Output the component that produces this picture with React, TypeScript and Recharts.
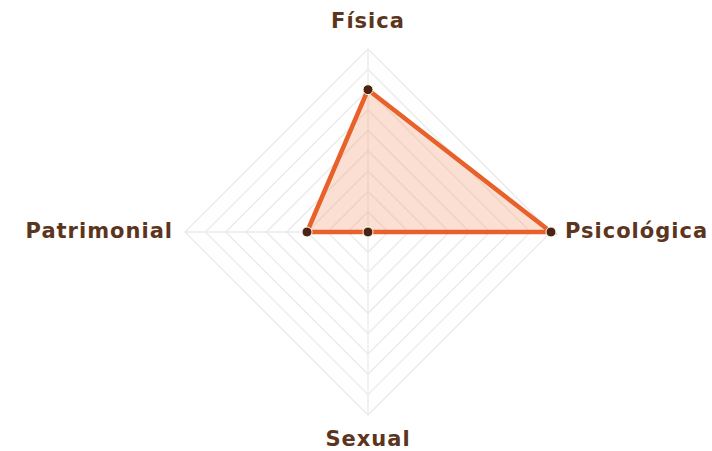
import { PolarAngleAxis, PolarGrid, PolarRadiusAxis, Radar, RadarChart } from "recharts";

const categories = ["Física", "Psicológica", "Sexual", "Patrimonial"];
const values = [7, 9, 0, 3];
const maxValue = 9;

const data = categories.map((name, i) => ({ name, value: values[i] }));

const LABEL = "#5b3520";

// nudges (dx, dy from the tick point to the text baseline) so the labels sit where the original puts them
const labelShift: Record<string, [number, number]> = {
  Física: [0, -13],
  Psicológica: [6, 6],
  Sexual: [0, 23],
  Patrimonial: [-4, 6],
};

function AngleTick(props: any) {
  const { x, y, payload, textAnchor } = props;
  const name = String(payload.value);
  const [dx, dy] = labelShift[name] ?? [0, 0];
  return (
    <text
      x={x + dx}
      y={y + dy}
      textAnchor={textAnchor}
      fill={LABEL}
      fontFamily="'DejaVu Sans', sans-serif"
      fontWeight={700}
      fontSize={21}
      letterSpacing={1}
    >
      {name}
    </text>
  );
}

export default function App() {
  return (
    <div style={{ width: 712, height: 451, background: "#fff" }}>
      <style>{"body { margin: 0; }"}</style>
      <RadarChart width={712} height={451} data={data} cx={368} cy={232} outerRadius={183} startAngle={90} endAngle={-270}>
        <PolarGrid stroke="#eaeaea" strokeWidth={1.3} gridType="polygon" />
        <PolarRadiusAxis domain={[0, maxValue]} tickCount={10} tick={false} axisLine={false} />
        <PolarAngleAxis dataKey="name" tick={<AngleTick />} tickLine={false} />
        <Radar
          dataKey="value"
          stroke="#e8602a"
          strokeWidth={4.5}
          fill="#f0a27e"
          fillOpacity={0.35}
          dot={{ r: 5, fill: "#4a2410", stroke: "#fff", strokeWidth: 1, fillOpacity: 1 }}
          isAnimationActive={false}
        />
      </RadarChart>
    </div>
  );
}
